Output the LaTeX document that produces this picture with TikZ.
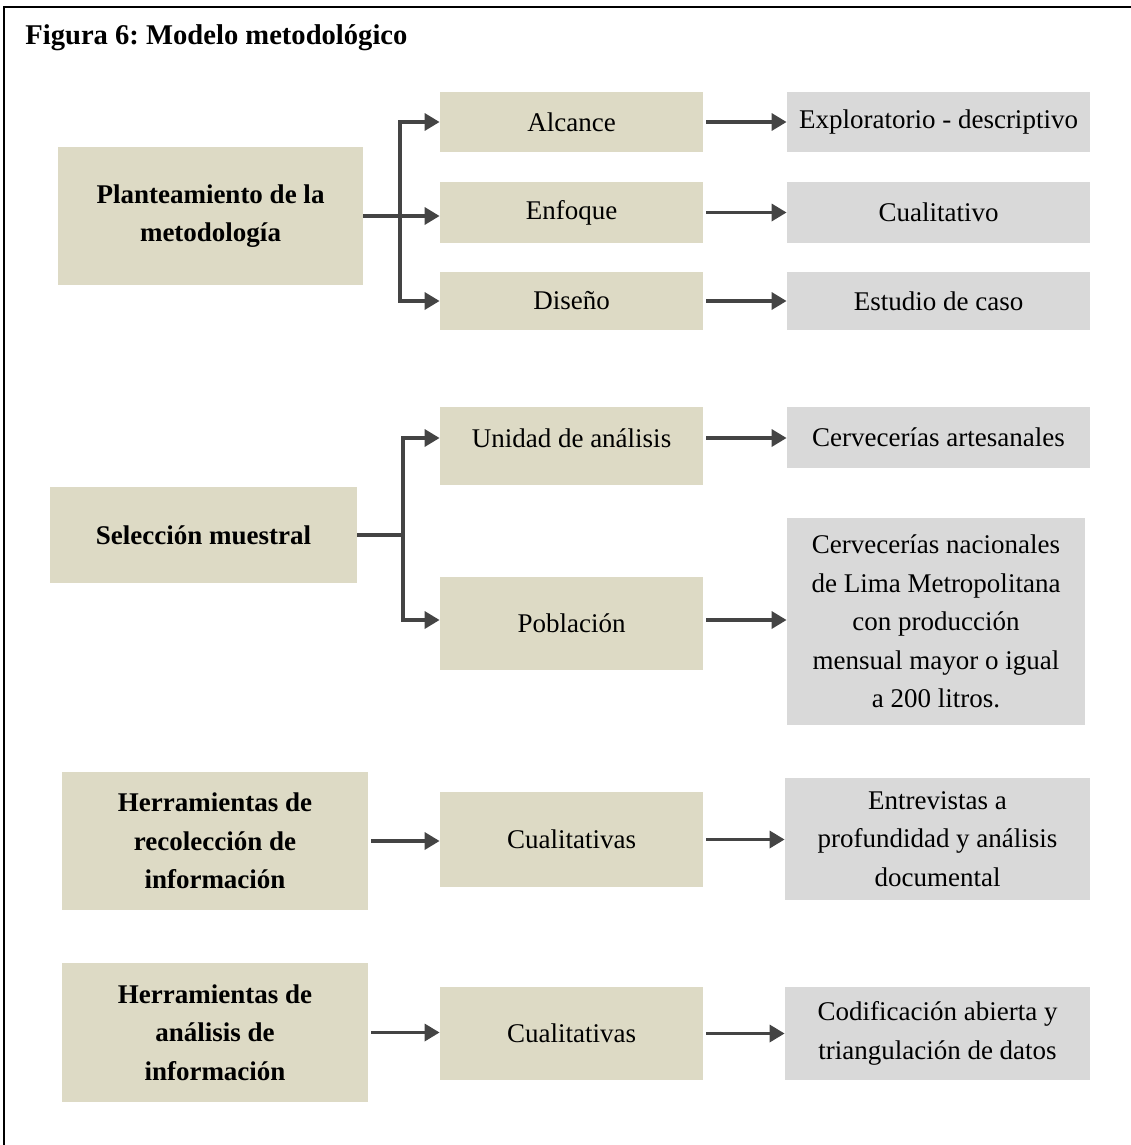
\documentclass[tikz,border=0pt]{standalone}
\usepackage{fontspec}
\setmainfont{Liberation Serif}
\usetikzlibrary{arrows.meta}
\frenchspacing

\definecolor{boxtan}{RGB}{221,218,197}
\definecolor{boxgrey}{RGB}{217,217,217}
\definecolor{arrowgrey}{RGB}{68,68,68}

\begin{document}
\begin{tikzpicture}[x=0.5pt,y=-0.5pt,
		txt/.style={inner sep=0pt,align=center,font=\fontsize{13.5}{19.25}\selectfont},
		lbox/.style={txt,fill=boxtan,font=\bfseries\fontsize{13.5}{19.25}\selectfont},
		mbox/.style={txt,fill=boxtan,minimum width=131.5pt},
		rbox/.style={txt,fill=boxgrey,minimum width=151.5pt},
		link/.style={draw=arrowgrey,line width=1.7pt},
		arr/.style={link,-{Triangle[length=7.5pt,width=8.5pt]}},
		gap/.style={shorten <=1.5pt}]
		\useasboundingbox (0,0) rectangle (1130,1145);
		\draw[line width=1pt] (4,1150) -- (4,7) -- (1135,7);
		\node[anchor=base west,inner sep=0pt,font=\bfseries\fontsize{14.3}{17}\selectfont] (title) at (25,45) {Figura 6: Modelo metodológico};

		\node[lbox,minimum width=152.5pt,minimum height=69pt] (plan) at (210.5,216) {Planteamiento de la\\metodología};
		\node[mbox,minimum height=30pt] (alc) at (571.5,122) {Alcance};
		\node[mbox,minimum height=30.5pt] (enf) at (571.5,212.5) {Enfoque};
		\node[mbox,minimum height=29pt] (dis) at (571.5,301) {Diseño};
		\node[rbox,minimum height=30pt] (exp) at (938.5,122) {Exploratorio - descriptivo};
		\node[rbox,minimum height=30.5pt] (cuo) at (938.5,212.5) {Cualitativo};
		\node[rbox,minimum height=29pt] (est) at (938.5,301) {Estudio de caso};

		\node[lbox,minimum width=153.5pt,minimum height=48pt] (sel) at (203.5,535) {Selección muestral};
		\node[mbox,minimum height=39pt,text height=8pt,text depth=6.5pt] (uni) at (571.5,446) {Unidad de análisis};
		\node[mbox,minimum height=46.5pt] (pob) at (571.5,623.5) {Población};
		\node[rbox,minimum height=30.5pt] (art) at (938.5,437.5) {Cervecerías artesanales};
		\node[rbox,minimum width=149pt,minimum height=103.5pt] (nac) at (936,621.5) {Cervecerías nacionales\\de Lima Metropolitana\\con producción\\mensual mayor o igual\\a 200 litros.};

		\node[lbox,minimum width=153pt,minimum height=69pt] (rec) at (215,841) {Herramientas de\\recolección de\\información};
		\node[mbox,minimum height=47.5pt] (cuq1) at (571.5,839.5) {Cualitativas};
		\node[rbox,minimum width=152.5pt,minimum height=61pt] (ent) at (937.5,839) {Entrevistas a\\profundidad y análisis\\documental};

		\node[lbox,minimum width=153pt,minimum height=69.5pt] (ana) at (215,1032.5) {Herramientas de\\análisis de\\información};
		\node[mbox,minimum height=46.5pt] (cuq2) at (571.5,1033.5) {Cualitativas};
		\node[rbox,minimum width=152.5pt,minimum height=46.5pt] (cod) at (937.5,1033.5) {Codificación abierta y\\triangulación de datos};

		\coordinate (b1) at (400,216);
		\draw[link] (plan.east) -- (b1);
		\draw[arr] (b1) |- (alc.west);
		\draw[arr] (b1) -- (b1 -| enf.west);
		\draw[arr] (b1) |- (dis.west);
		\draw[arr,gap] (alc.east) -- (exp.west);
		\draw[arr,gap] (enf.east) -- (cuo.west);
		\draw[arr,gap] (dis.east) -- (est.west);

		\coordinate (b2) at (403,535);
		\draw[link] (sel.east) -- (b2);
		\draw[arr] (b2) |- ([yshift=4pt]uni.west);
		\draw[arr] (b2) |- ([yshift=1.75pt]pob.west);
		\draw[arr,gap] ([yshift=4pt]uni.east) -- ([yshift=4pt]uni.east -| art.west);
		\draw[arr,gap] ([yshift=1.75pt]pob.east) -- ([yshift=1.75pt]pob.east -| nac.west);

		\draw[arr,gap] (rec.east) -- (rec.east -| cuq1.west);
		\draw[arr,gap] (cuq1.east) -- (cuq1.east -| ent.west);
		\draw[arr,gap] (ana.east) -- (ana.east -| cuq2.west);
		\draw[arr,gap] (cuq2.east) -- (cuq2.east -| cod.west);
	\end{tikzpicture}
\end{document}
